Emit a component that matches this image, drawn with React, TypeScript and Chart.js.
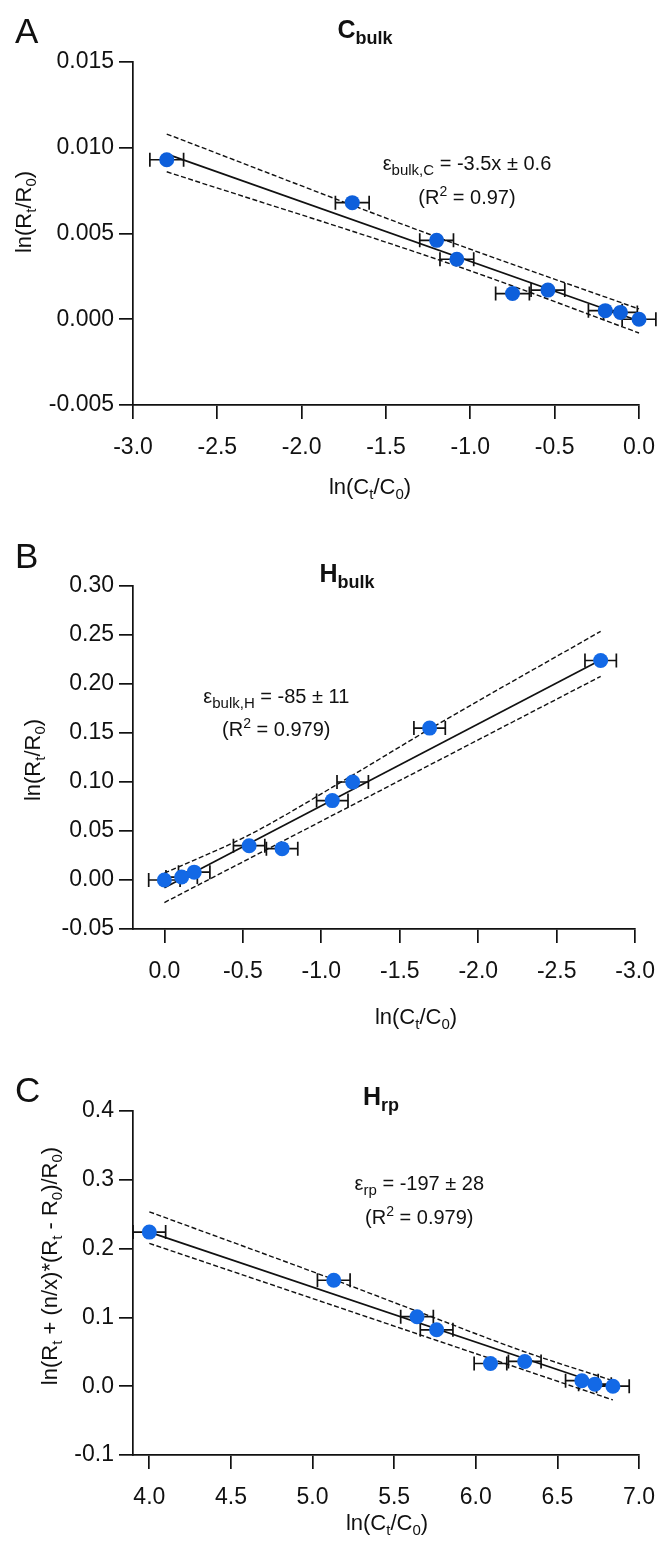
import React, { useEffect, useRef } from "react";
import { Chart, registerables } from "chart.js";

Chart.register(...registerables);

const FONT = '"Liberation Sans", Arial, Helvetica, sans-serif';

// ---------------- Panel A : C bulk ----------------
const aLnC = [-2.8, -1.7, -1.2, -1.08, -0.75, -0.54, -0.2, -0.11, 0.0];
const aLnR = [0.0093, 0.0068, 0.0046, 0.0035, 0.0015, 0.0017, 0.0005, 0.0004, 0.0];
const aErr = [0.1, 0.1, 0.1, 0.1, 0.1, 0.1, 0.1, 0.1, 0.1];
const aFitX = [-2.79, 0.0];
const aFitY = [0.0096, -0.0001];
const aUpX = [-2.8, -1.2, 0.0];
const aUpY = [0.0108, 0.0048, 0.0006];
const aLoX = [-2.8, -1.08, 0.0];
const aLoY = [0.0086, 0.0031, -0.0008];
const aXTicks = [-3.0, -2.5, -2.0, -1.5, -1.0, -0.5, 0.0];
const aYTicks = [-0.005, 0.0, 0.005, 0.01, 0.015];

// ---------------- Panel B : H bulk ----------------
const bLnC = [0.0, -0.11, -0.19, -0.54, -0.75, -1.07, -1.2, -1.69, -2.78];
const bLnR = [0.0, 0.003, 0.008, 0.035, 0.032, 0.081, 0.1, 0.155, 0.224];
const bErr = [0.1, 0.1, 0.1, 0.1, 0.1, 0.1, 0.1, 0.1, 0.1];
const bFitX = [0.0, -2.78];
const bFitY = [-0.008, 0.2245];
const bUpX = [0.0, -0.54, -1.2, -1.7, -2.78];
const bUpY = [0.007, 0.046, 0.107, 0.155, 0.2537];
const bLoX = [0.0, -2.78];
const bLoY = [-0.023, 0.2078];
const bXTicks = [0.0, -0.5, -1.0, -1.5, -2.0, -2.5, -3.0];
const bYTicks = [-0.05, 0.0, 0.05, 0.1, 0.15, 0.2, 0.25, 0.3];

// ---------------- Panel C : H rp ----------------
const cLnC = [4.0, 5.13, 5.64, 5.76, 6.09, 6.3, 6.65, 6.73, 6.84];
const cLnR = [0.224, 0.154, 0.101, 0.082, 0.033, 0.036, 0.008, 0.003, 0.0];
const cErr = [0.1, 0.1, 0.1, 0.1, 0.1, 0.1, 0.1, 0.1, 0.1];
const cFitX = [4.0, 6.84];
const cFitY = [0.224, -0.003];
const cUpX = [4.0, 5.13, 5.64, 6.3, 6.84];
const cUpY = [0.2535, 0.155, 0.109, 0.05, 0.008];
const cLoX = [4.0, 6.84];
const cLoY = [0.2076, -0.02];
const cXTicks = [4.0, 4.5, 5.0, 5.5, 6.0, 6.5, 7.0];
const cYTicks = [-0.1, 0.0, 0.1, 0.2, 0.3, 0.4];

type Seg = { t: string; s: number; b?: boolean; dy?: number };

const lnCt: Seg[] = [
  { t: "ln(C", s: 22 },
  { t: "t", s: 15, dy: 5 },
  { t: "/C", s: 22 },
  { t: "0", s: 15, dy: 5 },
  { t: ")", s: 22 },
];
const lnRt: Seg[] = [
  { t: "ln(R", s: 22 },
  { t: "t", s: 15, dy: 5 },
  { t: "/R", s: 22 },
  { t: "0", s: 15, dy: 5 },
  { t: ")", s: 22 },
];
const lnRp: Seg[] = [
  { t: "ln(R", s: 22 },
  { t: "t", s: 15, dy: 5 },
  { t: " + (n/x)*(R", s: 22 },
  { t: "t", s: 15, dy: 5 },
  { t: " - R", s: 22 },
  { t: "0", s: 15, dy: 5 },
  { t: ")/R", s: 22 },
  { t: "0", s: 15, dy: 5 },
  { t: ")", s: 22 },
];

interface PanelDef {
  top: number;
  height: number;
  area: { left: number; right: number; top: number; bottom: number };
  xMin: number;
  xMax: number;
  reverse: boolean;
  yMin: number;
  yMax: number;
  xTicks: number[];
  yTicks: number[];
  xDec: number;
  yDec: number;
  px: number[];
  py: number[];
  err: number[];
  fitX: number[];
  fitY: number[];
  upX: number[];
  upY: number[];
  loX: number[];
  loY: number[];
  color: string;
  letter: { t: string; x: number; y: number };
  title: { segs: Seg[]; cx: number; y: number };
  xTitle: { segs: Seg[]; cx: number; y: number };
  yTitle: { segs: Seg[]; x: number; cy: number };
  note: { l1: Seg[]; l2: Seg[]; x: number; y1: number; y2: number };
}

const r2 = (v: string): Seg[] => [
  { t: "(R", s: 20 },
  { t: "2", s: 14, dy: -8 },
  { t: " = " + v + ")", s: 20 },
];

const panels: PanelDef[] = [
  {
    top: 0,
    height: 515,
    area: { left: 133, right: 649, top: 62, bottom: 405 },
    xMin: -3.0,
    xMax: 0.0,
    reverse: false,
    yMin: -0.005,
    yMax: 0.015,
    xTicks: aXTicks,
    yTicks: aYTicks,
    xDec: 1,
    yDec: 3,
    px: aLnC,
    py: aLnR,
    err: aErr,
    fitX: aFitX,
    fitY: aFitY,
    upX: aUpX,
    upY: aUpY,
    loX: aLoX,
    loY: aLoY,
    color: "#0d5fdb",
    letter: { t: "A", x: 15, y: 43 },
    title: {
      segs: [
        { t: "C", s: 25, b: true },
        { t: "bulk", s: 18, b: true, dy: 6 },
      ],
      cx: 365,
      y: 38,
    },
    xTitle: { segs: lnCt, cx: 370, y: 494 },
    yTitle: { segs: lnRt, x: 31, cy: 212 },
    note: {
      l1: [
        { t: "ε", s: 20 },
        { t: "bulk,C", s: 15, dy: 5 },
        { t: " = -3.5x ± 0.6", s: 20 },
      ],
      l2: r2("0.97"),
      x: -1.02,
      y1: 0.00868,
      y2: 0.00673,
    },
  },
  {
    top: 515,
    height: 520,
    area: { left: 133, right: 650, top: 71, bottom: 414 },
    xMin: -3.0,
    xMax: 0.2,
    reverse: true,
    yMin: -0.05,
    yMax: 0.3,
    xTicks: bXTicks,
    yTicks: bYTicks,
    xDec: 1,
    yDec: 2,
    px: bLnC,
    py: bLnR,
    err: bErr,
    fitX: bFitX,
    fitY: bFitY,
    upX: bUpX,
    upY: bUpY,
    loX: bLoX,
    loY: bLoY,
    color: "#1369e6",
    letter: { t: "B", x: 15, y: 53 },
    title: {
      segs: [
        { t: "H", s: 25, b: true },
        { t: "bulk", s: 18, b: true, dy: 6 },
      ],
      cx: 347,
      y: 67,
    },
    xTitle: { segs: lnCt, cx: 416, y: 509 },
    yTitle: { segs: lnRt, x: 40, cy: 245 },
    note: {
      l1: [
        { t: "ε", s: 20 },
        { t: "bulk,H", s: 15, dy: 5 },
        { t: " = -85 ± 11", s: 20 },
      ],
      l2: r2("0.979"),
      x: -0.713,
      y1: 0.181,
      y2: 0.147,
    },
  },
  {
    top: 1035,
    height: 507,
    area: { left: 133, right: 650, top: 76, bottom: 420 },
    xMin: 3.9,
    xMax: 7.0,
    reverse: false,
    yMin: -0.1,
    yMax: 0.4,
    xTicks: cXTicks,
    yTicks: cYTicks,
    xDec: 1,
    yDec: 1,
    px: cLnC,
    py: cLnR,
    err: cErr,
    fitX: cFitX,
    fitY: cFitY,
    upX: cUpX,
    upY: cUpY,
    loX: cLoX,
    loY: cLoY,
    color: "#1369e6",
    letter: { t: "C", x: 15, y: 67 },
    title: {
      segs: [
        { t: "H", s: 25, b: true },
        { t: "rp", s: 18, b: true, dy: 6 },
      ],
      cx: 381,
      y: 70,
    },
    xTitle: { segs: lnCt, cx: 387, y: 495 },
    yTitle: { segs: lnRp, x: 57, cy: 231 },
    note: {
      l1: [
        { t: "ε", s: 20 },
        { t: "rp", s: 15, dy: 5 },
        { t: " = -197 ± 28", s: 20 },
      ],
      l2: r2("0.979"),
      x: 5.654,
      y1: 0.285,
      y2: 0.236,
    },
  },
];

function fontOf(seg: Seg) {
  return (seg.b ? "bold " : "") + seg.s + "px " + FONT;
}

function drawRich(ctx: CanvasRenderingContext2D, segs: Seg[], cx: number, y: number) {
  let total = 0;
  const widths = segs.map((sg) => {
    ctx.font = fontOf(sg);
    const w = ctx.measureText(sg.t).width;
    total += w;
    return w;
  });
  let x = cx - total / 2;
  ctx.textAlign = "left";
  ctx.textBaseline = "alphabetic";
  segs.forEach((sg, i) => {
    ctx.font = fontOf(sg);
    ctx.fillText(sg.t, x, y + (sg.dy || 0));
    x += widths[i];
  });
}

function Panel({ def }: { def: PanelDef }) {
  const ref = useRef<HTMLCanvasElement | null>(null);

  useEffect(() => {
    const canvas = ref.current;
    if (!canvas) return;
    const d = def;
    const toXY = (xs: number[], ys: number[]) => xs.map((x, i) => ({ x, y: ys[i] }));
    const ink = "#111111";

    const overlay = {
      id: "overlay" + d.top,
      beforeDatasetDraw(chart: any, args: any) {
        if (args.index !== 0) return;
        const ctx: CanvasRenderingContext2D = chart.ctx;
        const xs = chart.scales.x;
        const ys = chart.scales.y;
        ctx.save();
        ctx.strokeStyle = ink;
        ctx.lineWidth = 1.7;
        d.px.forEach((x, i) => {
          const y = ys.getPixelForValue(d.py[i]);
          const x1 = xs.getPixelForValue(x - d.err[i]);
          const x2 = xs.getPixelForValue(x + d.err[i]);
          ctx.beginPath();
          ctx.moveTo(x1, y);
          ctx.lineTo(x2, y);
          ctx.moveTo(x1, y - 7);
          ctx.lineTo(x1, y + 7);
          ctx.moveTo(x2, y - 7);
          ctx.lineTo(x2, y + 7);
          ctx.stroke();
        });
        ctx.restore();
      },
      afterDraw(chart: any) {
        const ctx: CanvasRenderingContext2D = chart.ctx;
        const xs = chart.scales.x;
        const ys = chart.scales.y;
        ctx.save();
        ctx.fillStyle = ink;
        ctx.font = "35px " + FONT;
        ctx.textAlign = "left";
        ctx.textBaseline = "alphabetic";
        ctx.fillText(d.letter.t, d.letter.x, d.letter.y);
        drawRich(ctx, d.title.segs, d.title.cx, d.title.y);
        drawRich(ctx, d.xTitle.segs, d.xTitle.cx, d.xTitle.y);
        ctx.save();
        ctx.translate(d.yTitle.x, d.yTitle.cy);
        ctx.rotate(-Math.PI / 2);
        drawRich(ctx, d.yTitle.segs, 0, 0);
        ctx.restore();
        const nx = xs.getPixelForValue(d.note.x);
        drawRich(ctx, d.note.l1, nx, ys.getPixelForValue(d.note.y1));
        drawRich(ctx, d.note.l2, nx, ys.getPixelForValue(d.note.y2));
        ctx.restore();
      },
    };

    const tickFont = { family: FONT, size: 23 };
    const bandStyle = {
      showLine: true,
      borderColor: ink,
      borderWidth: 1.4,
      borderDash: [5, 2.5],
      pointRadius: 0,
      cubicInterpolationMode: "monotone",
      clip: false,
    };

    const chart = new Chart(canvas, {
      type: "scatter",
      data: {
        datasets: [
          {
            data: toXY(d.px, d.py),
            backgroundColor: d.color,
            borderColor: d.color,
            pointRadius: 7.5,
            pointHoverRadius: 7.5,
            pointBorderWidth: 0,
            showLine: false,
            clip: false,
          } as any,
          {
            data: toXY(d.fitX, d.fitY),
            showLine: true,
            borderColor: ink,
            borderWidth: 1.7,
            pointRadius: 0,
            clip: false,
          },
          { data: toXY(d.upX, d.upY), ...bandStyle } as any,
          { data: toXY(d.loX, d.loY), ...bandStyle } as any,
        ],
      },
      options: {
        responsive: false,
        animation: false,
        events: [],
        layout: {
          padding: {
            top: d.area.top,
            right: 670 - d.area.right,
            left: 0,
            bottom: 0,
          },
        },
        plugins: {
          legend: { display: false },
          tooltip: { enabled: false },
          title: { display: false },
        },
        scales: {
          x: {
            type: "linear",
            min: d.xMin,
            max: d.xMax,
            reverse: d.reverse,
            afterBuildTicks: (s: any) => {
              s.ticks = d.xTicks.map((v) => ({ value: v }));
            },
            afterFit: (s: any) => {
              s.height = d.height - d.area.bottom;
            },
            ticks: {
              callback: (v: any) => Number(v).toFixed(d.xDec),
              font: tickFont,
              color: ink,
              padding: 15,
              maxRotation: 0,
              autoSkip: false,
            },
            grid: {
              display: true,
              drawOnChartArea: false,
              drawTicks: true,
              tickLength: 14,
              color: ink,
              lineWidth: 1.7,
            },
            border: { display: true, color: ink, width: 1.7 },
          },
          y: {
            type: "linear",
            min: d.yMin,
            max: d.yMax,
            afterBuildTicks: (s: any) => {
              s.ticks = d.yTicks.map((v) => ({ value: v }));
            },
            afterFit: (s: any) => {
              s.width = d.area.left;
            },
            ticks: {
              callback: (v: any) => Number(v).toFixed(d.yDec),
              font: tickFont,
              color: ink,
              padding: 5,
              autoSkip: false,
            },
            grid: {
              display: true,
              drawOnChartArea: false,
              drawTicks: true,
              tickLength: 14,
              color: ink,
              lineWidth: 1.7,
            },
            border: { display: true, color: ink, width: 1.7 },
          },
        },
      } as any,
      plugins: [overlay],
    });

    return () => chart.destroy();
  }, [def]);

  return (
    <canvas
      ref={ref}
      width={670}
      height={def.height}
      style={{ position: "absolute", left: 0, top: def.top, width: 670, height: def.height }}
    />
  );
}

export default function App() {
  return (
    <div
      style={{
        position: "absolute",
        left: 0,
        top: 0,
        width: 670,
        height: 1542,
        background: "#ffffff",
        overflow: "hidden",
      }}
    >
      {panels.map((p, i) => (
        <Panel key={i} def={p} />
      ))}
    </div>
  );
}
